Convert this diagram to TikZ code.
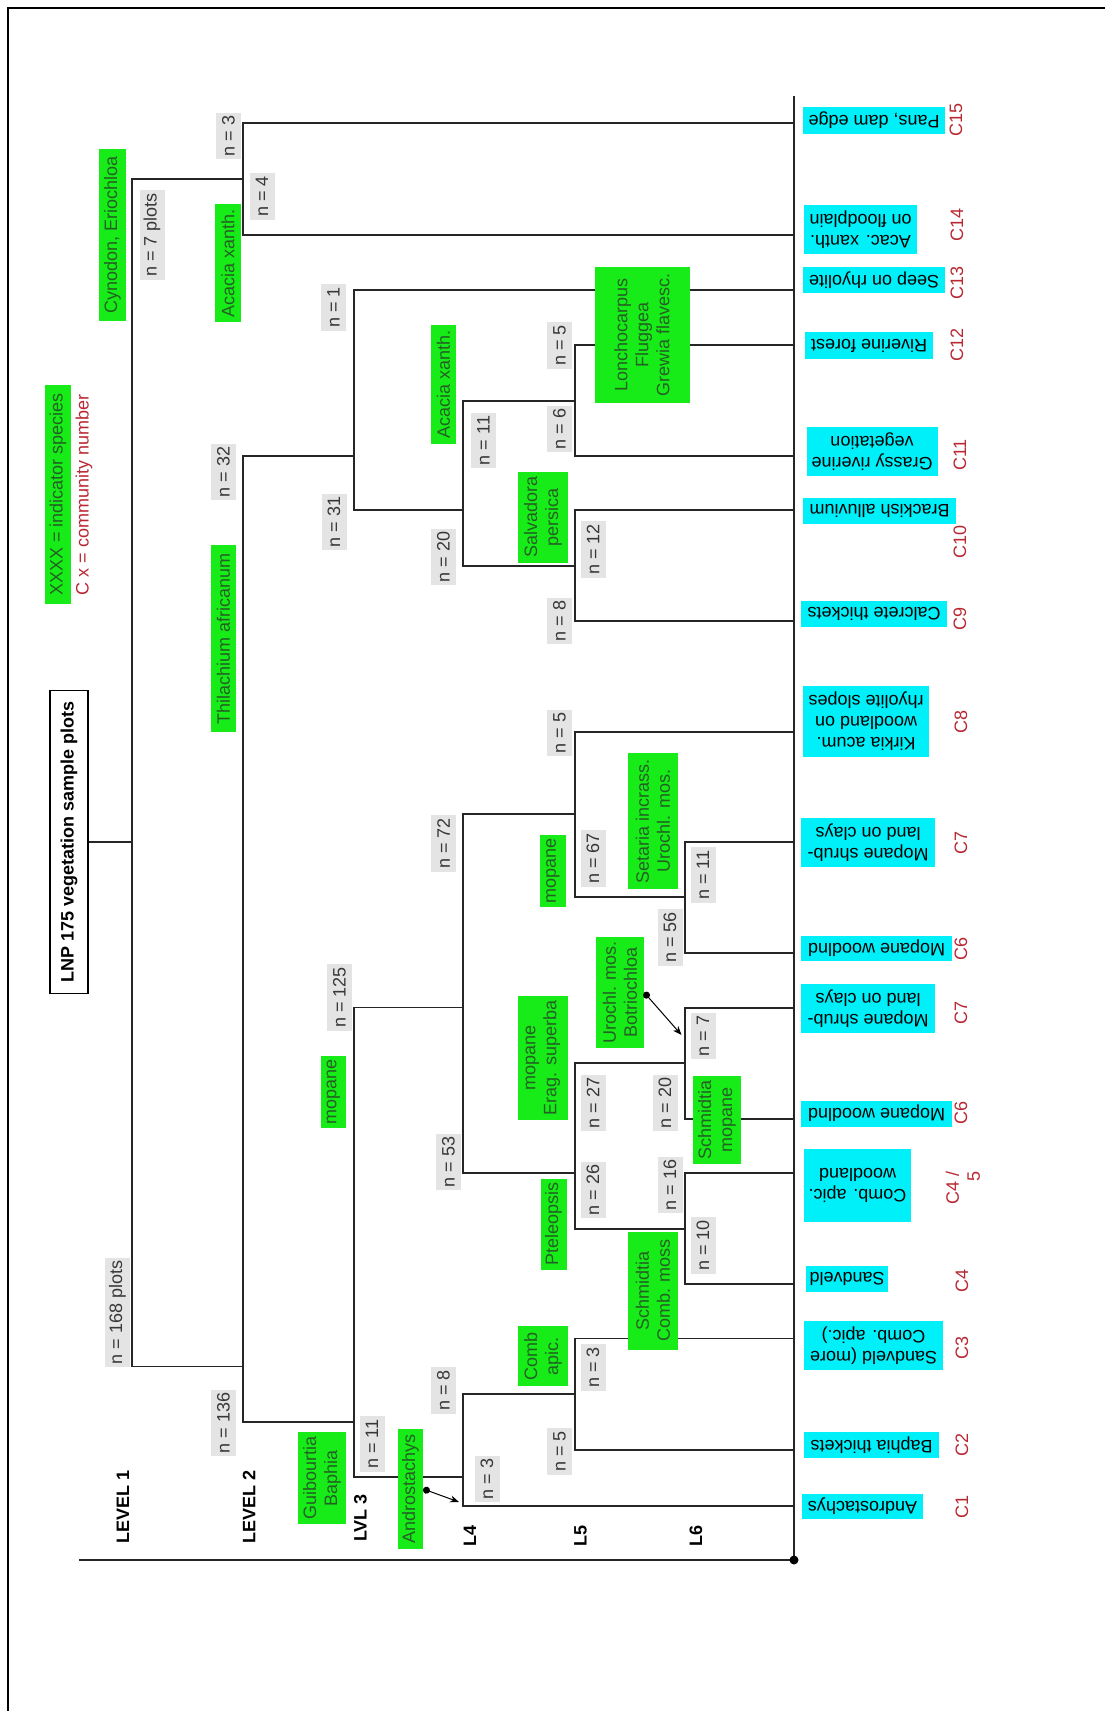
\documentclass[tikz,border=0pt]{standalone}
\usepackage{fontspec}
\setmainfont{Liberation Sans}
\usetikzlibrary{arrows.meta}
\definecolor{sppgreen}{RGB}{24,236,24}
\definecolor{spptext}{RGB}{36,96,36}
\definecolor{cntgray}{RGB}{228,228,228}
\definecolor{cnttext}{RGB}{55,55,55}
\definecolor{commcyan}{RGB}{0,240,250}
\definecolor{cnumred}{RGB}{185,40,50}

\begin{document}
\begin{tikzpicture}[x=1pt,y=-1pt,
    every node/.style={font=\fontsize{18}{21}\selectfont, inner sep=0pt, align=center},
    cnt/.style={fill=cntgray, text=cnttext, rotate=90, minimum height=25, inner xsep=3pt},
    spp/.style={fill=sppgreen, text=spptext, rotate=90},
    comm/.style={fill=commcyan, rotate=180},
    cnum/.style={text=cnumred, rotate=90},
    lvl/.style={font=\fontsize{18}{21}\selectfont\bfseries, rotate=90, anchor=west},
    tree/.style={line width=1.4pt, black!85},
    ptr/.style={line width=1pt, {Circle[length=7pt]}-{Stealth[length=9pt,width=7pt]}}]
    \useasboundingbox (0,0) rectangle (1105,1711);
    \draw[line width=2.5pt] (8,1725) -- (8,8) -- (1120,8);

    \node[draw, line width=1.5pt, rotate=90, font=\fontsize{18}{21}\selectfont\bfseries, minimum width=303, minimum height=38] (title) at (69,842) {LNP 175 vegetation sample plots};
    \node[spp, minimum width=219, minimum height=26] (keyspp) at (58,494.5) {XXXX = indicator species};
    \node[cnum] (keycnum) at (84,495) {C x = community number};

    \coordinate (root) at (132,842);
    \coordinate (k7) at (243,179);
    \coordinate (k168) at (243,1366.5);
    \coordinate (k32) at (354,456);
    \coordinate (k136) at (354,1422);
    \coordinate (k31) at (463,510);
    \coordinate (k11a) at (575,401);
    \coordinate (k20a) at (575,566);
    \coordinate (k125) at (463,1007.5);
    \coordinate (k11c) at (463,1477);
    \coordinate (k72) at (575,814);
    \coordinate (k67) at (685,897);
    \coordinate (k53) at (575,1173);
    \coordinate (k27) at (685,1063);
    \coordinate (k26) at (685,1229);
    \coordinate (k8) at (575,1394);
    \coordinate (l15) at (794,123);
    \coordinate (l14) at (794,235);
    \coordinate (l13) at (794,290);
    \coordinate (l12) at (794,345);
    \coordinate (l11) at (794,456);
    \coordinate (l10) at (794,510);
    \coordinate (l9) at (794,621);
    \coordinate (l8) at (794,732);
    \coordinate (l7a) at (794,842);
    \coordinate (l6a) at (794,953);
    \coordinate (l7b) at (794,1008);
    \coordinate (l6b) at (794,1119);
    \coordinate (l45) at (794,1173);
    \coordinate (l4) at (794,1284);
    \coordinate (l3) at (794,1338.5);
    \coordinate (l2) at (794,1450);
    \coordinate (l1) at (794,1506);
    \coordinate (axtop) at (794,96);
    \coordinate (axdot) at (794,1560);
    \coordinate (axleft) at (79,1560);

    \draw[tree] (title.south) -- (root);
    \draw[tree] (k7) -| (root) |- (k168);
    \draw[tree] (l15) -| (k7) |- (l14);
    \draw[tree] (k32) -| (k168) |- (k136);
    \draw[tree] (l13) -| (k32) |- (k31);
    \draw[tree] (k11a) -| (k31) |- (k20a);
    \draw[tree] (l12) -| (k11a) |- (l11);
    \draw[tree] (l10) -| (k20a) |- (l9);
    \draw[tree] (k125) -| (k136) |- (k11c);
    \draw[tree] (k72) -| (k125) |- (k53);
    \draw[tree] (l8) -| (k72) |- (k67);
    \draw[tree] (l7a) -| (k67) |- (l6a);
    \draw[tree] (k27) -| (k53) |- (k26);
    \draw[tree] (l7b) -| (k27) |- (l6b);
    \draw[tree] (l45) -| (k26) |- (l4);
    \draw[tree] (k8) -| (k11c) |- (l1);
    \draw[tree] (l3) -| (k8) |- (l2);
    \draw[tree] (axtop) -- (axdot) -- (axleft);
    \fill (axdot) circle (4.5);

    \node[cnt] (c3a) at (228.5,136) {n = 3};
    \node[cnt] (c4) at (262,196.5) {n = 4};
    \node[cnt] (c7) at (152,235) {n = 7 plots};
    \node[cnt] (c1) at (333.5,307.5) {n = 1};
    \node[cnt] (c32) at (223.5,472) {n = 32};
    \node[cnt] (c31) at (334,522) {n = 31};
    \node[cnt] (c11a) at (483.5,440.5) {n = 11};
    \node[cnt] (c20a) at (443.5,557) {n = 20};
    \node[cnt] (c5a) at (559.5,345.5) {n = 5};
    \node[cnt] (c6) at (559.5,429) {n = 6};
    \node[cnt] (c12) at (593,549.5) {n = 12};
    \node[cnt] (c8a) at (559.5,621) {n = 8};
    \node[cnt] (c5b) at (559.5,733) {n = 5};
    \node[cnt] (c72) at (443.5,843.5) {n = 72};
    \node[cnt] (c67) at (593,858.5) {n = 67};
    \node[cnt] (c11b) at (703,875) {n = 11};
    \node[cnt] (c56) at (670,937.5) {n = 56};
    \node[cnt] (c125) at (339.5,997.5) {n = 125};
    \node[cnt] (c7b) at (703,1036) {n = 7};
    \node[cnt] (c27) at (593,1103) {n = 27};
    \node[cnt] (c20b) at (665,1103) {n = 20};
    \node[cnt] (c53) at (448.5,1162) {n = 53};
    \node[cnt] (c26) at (593,1190) {n = 26};
    \node[cnt] (c16) at (670,1185) {n = 16};
    \node[cnt] (c10) at (703,1245.5) {n = 10};
    \node[cnt] (c168) at (117.5,1312.5) {n = 168 plots};
    \node[cnt] (c3b) at (593,1367.5) {n = 3};
    \node[cnt] (c8b) at (443.5,1390.5) {n = 8};
    \node[cnt] (c136) at (223.5,1423) {n = 136};
    \node[cnt] (c11c) at (372,1444) {n = 11};
    \node[cnt] (c5c) at (559.5,1451.5) {n = 5};
    \node[cnt] (c3c) at (487,1479) {n = 3};

    \node[spp, minimum width=172, minimum height=27] (spcyn) at (112.5,235) {Cynodon, Eriochloa};
    \node[spp, minimum width=118, minimum height=26] (spacx) at (228,263) {Acacia xanth.};
    \node[spp, minimum width=119, minimum height=25] (spacy) at (443.5,384.5) {Acacia xanth.};
    \node[spp, minimum width=91, minimum height=50] (spsal) at (543,517) {Salvadora\\persica};
    \node[spp, minimum width=136, minimum height=95] (splon) at (642,335) {Lonchocarpus\\Fluggea\\Grewia flavesc.};
    \node[spp, minimum width=187, minimum height=25] (spthi) at (223.5,638.5) {Thilachium africanum};
    \node[spp, minimum width=72, minimum height=26] (spmopa) at (553,871) {mopane};
    \node[spp, minimum width=136, minimum height=50] (spset) at (653,821) {Setaria incrass.\\Urochl. mos.};
    \node[spp, minimum width=124, minimum height=50] (sperag) at (543,1058) {mopane\\Erag. superba};
    \node[spp, minimum width=72, minimum height=25] (spmopb) at (333.5,1092) {mopane};
    \node[spp, minimum width=111, minimum height=48] (spuro) at (620,992.5) {Urochl. mos.\\Botriochloa};
    \node[spp, minimum width=88, minimum height=48] (spschm) at (717,1120) {Schmidtia\\mopane};
    \node[spp, minimum width=91, minimum height=26] (sppte) at (553.5,1224) {Pteleopsis};
    \node[spp, minimum width=60, minimum height=50] (spcomb) at (543,1356) {Comb\\apic.};
    \node[spp, minimum width=118, minimum height=50] (spschc) at (653,1290.5) {Schmidtia\\Comb. moss};
    \node[spp, minimum width=92, minimum height=48] (spgui) at (322,1478) {Guibourtia\\Baphia};
    \node[spp, minimum width=120, minimum height=25] (spand) at (410.5,1489) {Androstachys};

    \coordinate (tipuro) at (681.5,1035);
    \coordinate (tipand) at (459,1502);
    \draw[ptr] (spuro.south) -- (tipuro);
    \draw[ptr] (spand.south) -- (tipand);

    \node[comm, minimum width=142, minimum height=27] (cm15) at (874,120) {Pans, dam edge};
    \node[comm, minimum width=113, minimum height=49] (cm14) at (860.5,229.5) {Acac. xanth.\\on floodplain};
    \node[comm, minimum width=142, minimum height=26] (cm13) at (874,280) {Seep on rhyolite};
    \node[comm, minimum width=128, minimum height=27] (cm12) at (869,345.5) {Riverine forest};
    \node[comm, minimum width=131, minimum height=49] (cm11) at (872,451.5) {Grassy riverine\\vegetation};
    \node[comm, minimum width=153, minimum height=26] (cm10) at (879.5,511) {Brackish alluvium};
    \node[comm, minimum width=146, minimum height=26] (cm9) at (874,614) {Calcrete thickets};
    \node[comm, minimum width=126, minimum height=71] (cm8) at (866,721.5) {Kirkia acum.\\woodland on\\rhyolite slopes};
    \node[comm, minimum width=134, minimum height=49] (cm7a) at (868,842.5) {Mopane shrub-\\land on clays};
    \node[comm, minimum width=151, minimum height=25] (cm6a) at (876.5,948.5) {Mopane woodlnd};
    \node[comm, minimum width=134, minimum height=49] (cm7b) at (868,1008.5) {Mopane shrub-\\land on clays};
    \node[comm, minimum width=151, minimum height=26] (cm6b) at (876.5,1113.5) {Mopane woodlnd};
    \node[comm, minimum width=107, minimum height=73] (cm45) at (857.5,1185.5) {Comb. apic.\\woodland};
    \node[comm, minimum width=82, minimum height=26] (cm4) at (847,1279) {Sandveld};
    \node[comm, minimum width=139, minimum height=49] (cm3) at (873.5,1345.5) {Sandveld (more\\Comb. apic.)};
    \node[comm, minimum width=135, minimum height=26] (cm2) at (871.5,1445) {Baphia thickets};
    \node[comm, minimum width=121, minimum height=25] (cm1) at (862.5,1506) {Androstachys};

    \node[cnum] (cn15) at (956,120) {C15};
    \node[cnum] (cn14) at (957,225) {C14};
    \node[cnum] (cn13) at (957,283) {C13};
    \node[cnum] (cn12) at (957,345) {C12};
    \node[cnum] (cn11) at (960,455) {C11};
    \node[cnum] (cn10) at (960,542) {C10};
    \node[cnum] (cn9) at (960,618.5) {C9};
    \node[cnum] (cn8) at (961,722) {C8};
    \node[cnum] (cn7a) at (961,843) {C7};
    \node[cnum] (cn6a) at (961,948.5) {C6};
    \node[cnum] (cn7b) at (961,1012.5) {C7};
    \node[cnum] (cn6b) at (961,1113) {C6};
    \node[cnum, align=right] (cn45) at (963,1188) {C4 /\\5};
    \node[cnum] (cn4) at (962,1280.5) {C4};
    \node[cnum] (cn3) at (962,1347.5) {C3};
    \node[cnum] (cn2) at (962,1445) {C2};
    \node[cnum] (cn1) at (962,1507) {C1};

    \node[lvl] (lev1) at (123,1544) {LEVEL 1};
    \node[lvl] (lev2) at (249,1544) {LEVEL 2};
    \node[lvl] (lev3) at (360.5,1542) {LVL 3};
    \node[lvl] (lev4) at (470,1547) {L4};
    \node[lvl] (lev5) at (580.5,1547) {L5};
    \node[lvl] (lev6) at (696,1547) {L6};
\end{tikzpicture}
\end{document}
